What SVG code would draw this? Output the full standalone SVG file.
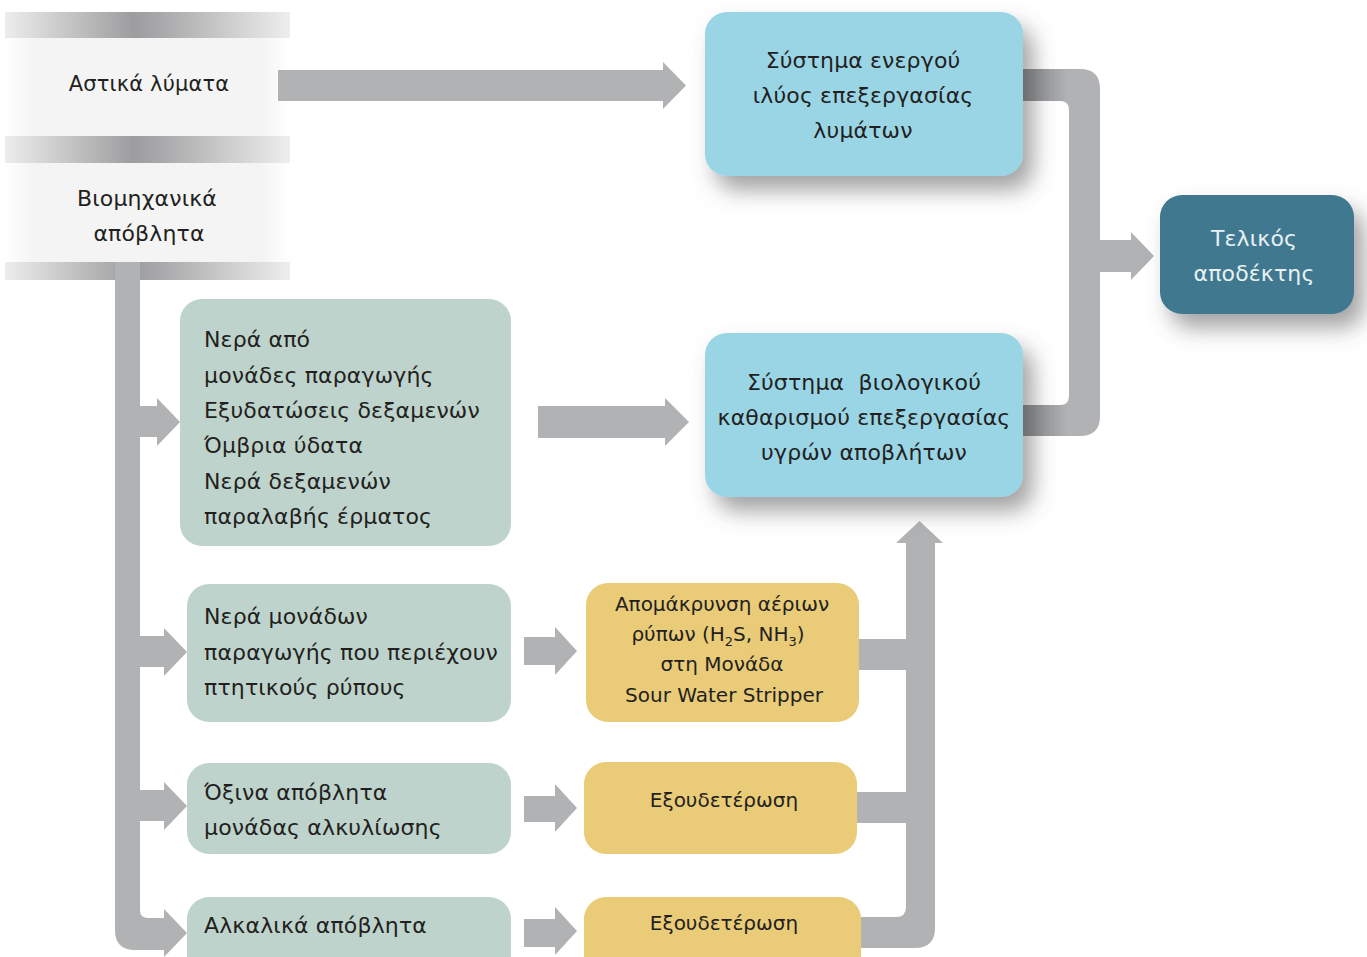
<svg xmlns="http://www.w3.org/2000/svg" width="1367" height="957" viewBox="0 0 1367 957">
<defs>
<style>
.t{font-family:"DejaVu Sans","Liberation Sans",sans-serif;font-size:22px;letter-spacing:0.15px;fill:#231f20}
.s{font-size:20px;letter-spacing:0}
.c{text-anchor:middle}
.w{fill:#e9f1f4}
.arrow{fill:#b1b2b4}
.green{fill:#bed3cb}
.yellow{fill:#e9cb78}
.blue{fill:#9ad5e6}
</style>
<linearGradient id="band" x1="0" y1="0" x2="1" y2="0">
<stop offset="0" stop-color="#ededed"/>
<stop offset="0.45" stop-color="#9d9d9f"/>
<stop offset="0.55" stop-color="#a9a9ab"/>
<stop offset="1" stop-color="#eeeeee"/>
</linearGradient>
<linearGradient id="pale" x1="0" y1="0" x2="1" y2="0">
<stop offset="0" stop-color="#ffffff"/>
<stop offset="0.1" stop-color="#f4f4f4"/>
<stop offset="0.9" stop-color="#f4f4f4"/>
<stop offset="1" stop-color="#ffffff"/>
</linearGradient>
<linearGradient id="connL" x1="0" y1="0" x2="1" y2="0">
<stop offset="0" stop-color="#7f8083"/>
<stop offset="0.6" stop-color="#b1b2b4"/>
<stop offset="1" stop-color="#b1b2b4"/>
</linearGradient>
<filter id="sh" x="-20%" y="-20%" width="150%" height="170%">
<feDropShadow dx="10" dy="14" stdDeviation="11" flood-color="#555" flood-opacity="0.55"/>
</filter>
</defs>

<g id="panel">
<rect x="5" y="12" width="285" height="268" fill="url(#pale)"/>
<rect x="5" y="12" width="285" height="26" fill="url(#band)"/>
<rect x="5" y="136" width="285" height="27" fill="url(#band)"/>
<rect x="5" y="262" width="285" height="18" fill="url(#band)"/>
</g>

<g id="connectors">
<path class="arrow" d="M278 70 H663 V62 L686 85.5 L663 109 V101 H278 Z"/>
<path fill="url(#connL)" d="M1020 69 H1080 Q1100 69 1100 89 V416 Q1100 436 1080 436 H1020 V405 H1060 Q1069 405 1069 396 V110 Q1069 101 1060 101 H1020 Z"/>
<path class="arrow" d="M1100 240 H1131 V232 L1154 256 L1131 280 V272 H1100 Z"/>
<path class="arrow" d="M538 406 H665 V398 L689 422 L665 446 V438 H538 Z"/>
<path class="arrow" d="M115 262 H140 V406 H157 V398 L180 422 L157 446 V437 H140 V636 H164 V628 L187 652 L164 676 V667 H140 V790 H164 V782 L187 806 L164 830 V821 H140 V910 Q140 918 148 918 H164 V909 L187 933 L164 957 V950 H135 Q115 950 115 930 Z"/>
<path class="arrow" d="M524 637 H555 V627 L577 651 L555 675 V665 H524 Z"/>
<path class="arrow" d="M524 796 H555 V784 L577 808 L555 832 V822 H524 Z"/>
<path class="arrow" d="M524 919 H555 V907 L577 931 L555 955 V947 H524 Z"/>
<path class="arrow" d="M855 639 H906 V670 H855 Z"/>
<path class="arrow" d="M855 792 H906 V823 H855 Z"/>
<path class="arrow" d="M855 917 H896 Q906 917 906 907 V543 H896 L919.5 521 L943 543 H935 V928 Q935 948 915 948 H855 Z"/>
</g>

<g id="n-astika">
<text class="t c" x="149" y="91" style="font-size:21px">Αστικά λύματα</text>
</g>
<g id="n-viomixanika">
<text class="t c" x="147" y="206">Βιομηχανικά</text>
<text class="t c" x="149" y="241">απόβλητα</text>
</g>

<g id="n-energou">
<rect class="blue" x="705" y="12" width="318" height="164" rx="22" filter="url(#sh)"/>
<text class="t c" x="863" y="68">Σύστημα ενεργού</text>
<text class="t c" x="863" y="103">ιλύος επεξεργασίας</text>
<text class="t c" x="863" y="138">λυμάτων</text>
</g>

<g id="n-viologikou">
<rect class="blue" x="705" y="333" width="318" height="164" rx="22" filter="url(#sh)"/>
<text class="t c" x="864" y="390" xml:space="preserve">Σύστημα  βιολογικού</text>
<text class="t c" x="864" y="425">καθαρισμού επεξεργασίας</text>
<text class="t c" x="864" y="460">υγρών αποβλήτων</text>
</g>

<g id="n-telikos">
<rect x="1160" y="195" width="194" height="119" rx="22" fill="#3f7890" filter="url(#sh)"/>
<text class="t c w" x="1254" y="246">Τελικός</text>
<text class="t c w" x="1254" y="281">αποδέκτης</text>
</g>

<g id="n-nera">
<rect class="green" x="180" y="299" width="331" height="247" rx="22"/>
<text class="t" x="204" y="347">Νερά από</text>
<text class="t" x="204" y="383">μονάδες παραγωγής</text>
<text class="t" x="204" y="418">Εξυδατώσεις δεξαμενών</text>
<text class="t" x="204" y="453">Όμβρια ύδατα</text>
<text class="t" x="204" y="489">Νερά δεξαμενών</text>
<text class="t" x="204" y="524">παραλαβής έρματος</text>
</g>

<g id="n-ptitikous">
<rect class="green" x="187" y="584" width="324" height="138" rx="22"/>
<text class="t" x="204" y="624">Νερά μονάδων</text>
<text class="t" x="204" y="660">παραγωγής που περιέχουν</text>
<text class="t" x="204" y="695">πτητικούς ρύπους</text>
</g>

<g id="n-oxina">
<rect class="green" x="187" y="763" width="324" height="91" rx="22"/>
<text class="t" x="204" y="800">Όξινα απόβλητα</text>
<text class="t" x="204" y="835">μονάδας αλκυλίωσης</text>
</g>

<g id="n-alkalika">
<rect class="green" x="187" y="897" width="324" height="80" rx="22"/>
<text class="t" x="204" y="933">Αλκαλικά απόβλητα</text>
</g>

<g id="n-sws">
<rect class="yellow" x="586" y="583" width="273" height="139" rx="22"/>
<text class="t s c" x="722" y="611">Απομάκρυνση αέριων</text>
<text class="t s c" x="718" y="641">ρύπων (H<tspan font-size="13" dy="5">2</tspan><tspan dy="-5">S, NH</tspan><tspan font-size="13" dy="5">3</tspan><tspan dy="-5">)</tspan></text>
<text class="t s c" x="722" y="671">στη Μονάδα</text>
<text class="t s c" x="724" y="702">Sour Water Stripper</text>
</g>

<g id="n-exoudeterosi1">
<rect class="yellow" x="584" y="762" width="273" height="92" rx="22"/>
<text class="t s c" x="724" y="807">Εξουδετέρωση</text>
</g>

<g id="n-exoudeterosi2">
<rect class="yellow" x="584" y="897" width="277" height="80" rx="22"/>
<text class="t s c" x="724" y="930">Εξουδετέρωση</text>
</g>
</svg>
